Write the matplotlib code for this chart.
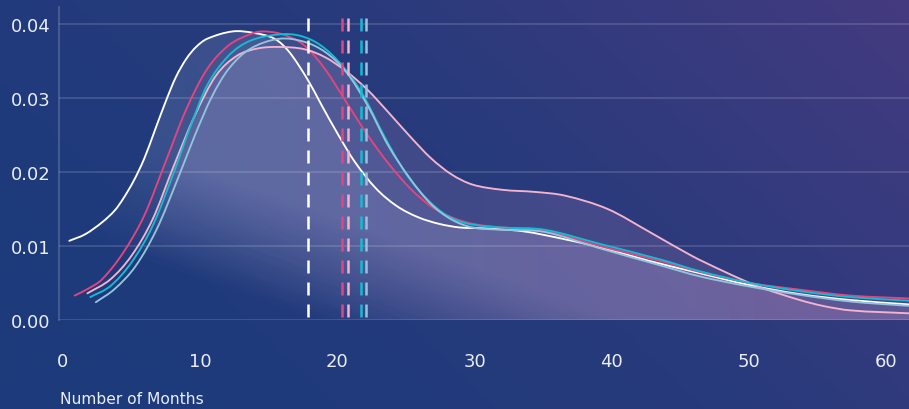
import numpy as np
import matplotlib.pyplot as plt
from matplotlib.colors import LinearSegmentedColormap, to_rgb
from matplotlib.path import Path
from matplotlib.patches import PathPatch

plt.rcParams['font.family'] = ['DejaVu Sans']

# ---- data ----
white_x = [0.46, 1.63, 2.85, 3.77, 4.39, 5.15, 5.92, 6.69, 7.46, 8.22, 8.99,
           9.7, 10.5, 12.36, 13.9, 15.43, 16.5, 17.83, 18.8, 20.04, 21.26,
           22.8, 24.33, 25.87, 27.4, 28.94, 30.47, 33.5, 36.6, 39.65, 42.7,
           45.8, 50.1, 53.7, 57.4, 61.7]
white_y = [0.0107, 0.0116, 0.0132, 0.0148, 0.0164, 0.0188, 0.0218, 0.0256,
           0.0294, 0.0328, 0.0353, 0.0369, 0.0380, 0.0390, 0.0388, 0.0380,
           0.0362, 0.0325, 0.0292, 0.0251, 0.0214, 0.0178, 0.0154, 0.0139,
           0.0130, 0.0125, 0.0124, 0.0120, 0.0109, 0.0096, 0.0080, 0.0066,
           0.0047, 0.0035, 0.0027, 0.0021]

magenta_x = [0.85, 1.8, 2.85, 4.39, 5.92, 7.46, 8.99, 10.5, 12.06, 13.6, 14.5,
             16.0, 17.6, 19.1, 20.6, 22.2, 23.7, 25.3, 26.8, 28.3, 29.85, 32.0,
             35.1, 39.1, 43.5, 46.4, 50.1, 53.7, 57.4, 61.7]
magenta_y = [0.0033, 0.0042, 0.0055, 0.0091, 0.0141, 0.0213, 0.0285, 0.0339,
             0.0371, 0.0386, 0.0390, 0.0386, 0.0371, 0.0339, 0.0296, 0.0250,
             0.0212, 0.0178, 0.0154, 0.0139, 0.0130, 0.0125, 0.0121, 0.0100,
             0.0080, 0.0065, 0.0050, 0.0041, 0.0033, 0.0029]

cyan_x = [1.99, 3.46, 5.0, 6.53, 8.07, 9.3, 10.5, 12.06, 13.6, 15.75, 17.3,
          18.8, 20.34, 21.87, 23.4, 24.95, 26.5, 28.0, 29.55, 32.0, 35.1, 39.1,
          43.5, 46.4, 50.1, 53.7, 57.4, 61.7]
cyan_y = [0.0031, 0.0046, 0.0078, 0.0127, 0.0199, 0.0262, 0.0317, 0.0357,
          0.0377, 0.0386, 0.0384, 0.0371, 0.0344, 0.0304, 0.0249, 0.0199,
          0.0164, 0.0141, 0.0130, 0.0125, 0.0122, 0.0103, 0.0082, 0.0066,
          0.0050, 0.0039, 0.0031, 0.0026]

lblue_x = [2.39, 3.77, 5.3, 6.84, 8.37, 9.6, 10.83, 12.06, 13.6, 15.75, 17.58,
           19.12, 20.65, 22.2, 23.7, 25.3, 26.8, 28.3, 29.85, 32.0, 35.1, 39.1,
           43.5, 46.4, 50.1, 53.7, 57.4, 61.7]
lblue_y = [0.0024, 0.0042, 0.0073, 0.0123, 0.0191, 0.0249, 0.0301, 0.0339,
           0.0366, 0.0380, 0.0376, 0.0362, 0.0335, 0.0290, 0.0236, 0.0191,
           0.0157, 0.0136, 0.0125, 0.0122, 0.0119, 0.0097, 0.0074, 0.0059,
           0.0045, 0.0034, 0.0025, 0.0019]

pink_x = [1.78, 3.46, 5.0, 6.53, 8.07, 9.6, 11.14, 12.67, 14.2, 15.75, 17.58,
          19.12, 20.65, 22.2, 23.7, 25.3, 26.8, 28.3, 29.85, 32.0, 34.46, 36.6,
          39.7, 42.75, 45.8, 47.9, 49.8, 51.0, 53.7, 55.4, 57.4, 61.7]
pink_y = [0.0036, 0.0055, 0.0087, 0.0136, 0.0208, 0.0276, 0.0330, 0.0357,
          0.0367, 0.0369, 0.0366, 0.0355, 0.0336, 0.0311, 0.0281, 0.0248,
          0.0219, 0.0197, 0.0183, 0.0176, 0.0173, 0.0168, 0.0150, 0.0119,
          0.0087, 0.0068, 0.0052, 0.0043, 0.0027, 0.0019, 0.0013, 0.0009]

# medians (dashed lines)
medians = [17.84, 20.36, 20.75, 21.74, 22.1]

x_ticks = [0, 10, 20, 30, 40, 50, 60]
y_ticks = [0.00, 0.01, 0.02, 0.03, 0.04]

# ---- style ----
c_white = '#ffffff'
c_magenta = '#e8437f'
c_cyan = '#13bcd2'
c_lblue = '#93c4de'
c_pink = '#f4b4d0'
txt_col = '#e9edf7'

XLIM = (-0.29, 61.66)
YLIM = (0, 0.0423)
AX_RECT = [59 / 909, 89 / 410, 850 / 909, 313 / 410]

# (x, y, line colour, fill colour, fill alpha)
series = [
    (white_x, white_y, c_white, '#cdd8f6', 0.15),
    (magenta_x, magenta_y, c_magenta, '#d8609c', 0.07),
    (pink_x, pink_y, c_pink, '#e690c6', 0.16),
    (cyan_x, cyan_y, c_cyan, '#8cc4e6', 0.05),
    (lblue_x, lblue_y, c_lblue, '#a9c0ea', 0.06),
]
med_cols = [c_white, c_magenta, c_pink, c_cyan, c_lblue]


def smooth_path(xs, ys, closed=False):
    """Cubic Hermite path through the points (drawn as Bezier segments)."""
    xs = np.asarray(xs, float)
    ys = np.asarray(ys, float)
    n = len(xs)
    m = np.empty(n)
    m[1:-1] = (ys[2:] - ys[:-2]) / (xs[2:] - xs[:-2])
    m[0] = (ys[1] - ys[0]) / (xs[1] - xs[0])
    m[-1] = (ys[-1] - ys[-2]) / (xs[-1] - xs[-2])
    verts, codes = [], []
    if closed:
        verts += [(xs[0], 0), (xs[0], ys[0])]
        codes += [Path.MOVETO, Path.LINETO]
    else:
        verts.append((xs[0], ys[0]))
        codes.append(Path.MOVETO)
    for i in range(n - 1):
        h = xs[i + 1] - xs[i]
        verts += [(xs[i] + h / 3, ys[i] + m[i] * h / 3),
                  (xs[i + 1] - h / 3, ys[i + 1] - m[i + 1] * h / 3),
                  (xs[i + 1], ys[i + 1])]
        codes += [Path.CURVE4] * 3
    if closed:
        verts += [(xs[-1], 0), (xs[0], 0)]
        codes += [Path.LINETO, Path.CLOSEPOLY]
    return Path(verts, codes)


fig = plt.figure(figsize=(9.09, 4.10), dpi=100)

# background gradient
bg = fig.add_axes([0, 0, 1, 1], zorder=0)
gx, gy = np.meshgrid(np.linspace(0, 1, 300), np.linspace(0, 1, 150))
t = np.clip(0.75 * gx + 0.35 * gy - 0.15, 0, 1)
bg_cmap = LinearSegmentedColormap.from_list('bg', ['#1d3a7b', '#283b7c', '#443a80'])
bg.imshow(t, cmap=bg_cmap, origin='lower', aspect='auto', extent=[0, 1, 0, 1])
bg.set_axis_off()

ax = fig.add_axes(AX_RECT, zorder=1)
ax.patch.set_alpha(0)

# fill under each curve: fades out towards the lower left,
# bluish on the left and mauve on the right
u, v = np.meshgrid(np.linspace(0, 1, 400), np.linspace(0, 1, 200))
px = 59 + u * 850
py = v * 313
s = 0.337 * px + 0.942 * py
ramp = np.clip((s - 100) / 110, 0, 1)
hue = np.clip((u - 0.15) / 0.7, 0, 1)[..., None]
tint = (1 - hue) * np.array(to_rgb('#a8c4f2')) + hue * np.array(to_rgb('#d898cf'))
for xs, ys, lc, fc, a in series:
    rgba = np.zeros(u.shape + (4,))
    rgba[..., :3] = 0.5 * np.array(to_rgb(fc)) + 0.5 * tint
    rgba[..., 3] = a * ramp
    patch = PathPatch(smooth_path(xs, ys, closed=True), transform=ax.transData,
                      facecolor='none', edgecolor='none')
    ax.add_patch(patch)
    im = ax.imshow(rgba, aspect='auto', origin='lower',
                   extent=[XLIM[0], XLIM[1], YLIM[0], YLIM[1]], zorder=1)
    im.set_clip_path(patch)

ax.set_xlim(*XLIM)
ax.set_ylim(*YLIM)

for y in y_ticks:
    ax.axhline(y, color='white', alpha=0.16, lw=1.2, zorder=2)

for xs, ys, lc, fc, a in series:
    ax.add_patch(PathPatch(smooth_path(xs, ys), facecolor='none', edgecolor=lc,
                           lw=1.35, zorder=4, capstyle='round'))

for m, col in zip(medians, med_cols):
    ax.plot([m, m], [0.0408, 0], color=col, lw=1.8, zorder=5,
            dashes=(5.2, 3.6))

for side in ['top', 'right', 'bottom']:
    ax.spines[side].set_visible(False)
ax.spines['left'].set_color((1, 1, 1, 0.2))
ax.spines['left'].set_linewidth(1.2)

ax.set_xticks(x_ticks)
ax.set_xticklabels([str(val) for val in x_ticks])
ax.set_yticks(y_ticks)
ax.set_yticklabels([f'{val:.2f}' for val in y_ticks])
ax.tick_params(axis='both', length=0, colors=txt_col, labelsize=13)
ax.tick_params(axis='x', pad=23)
ax.tick_params(axis='y', pad=6)

fig.text(60 / 909, 10 / 410, 'Number of Months', color=txt_col,
         fontsize=11.2, ha='left', va='center')

fig.savefig('out.png', dpi=100)
